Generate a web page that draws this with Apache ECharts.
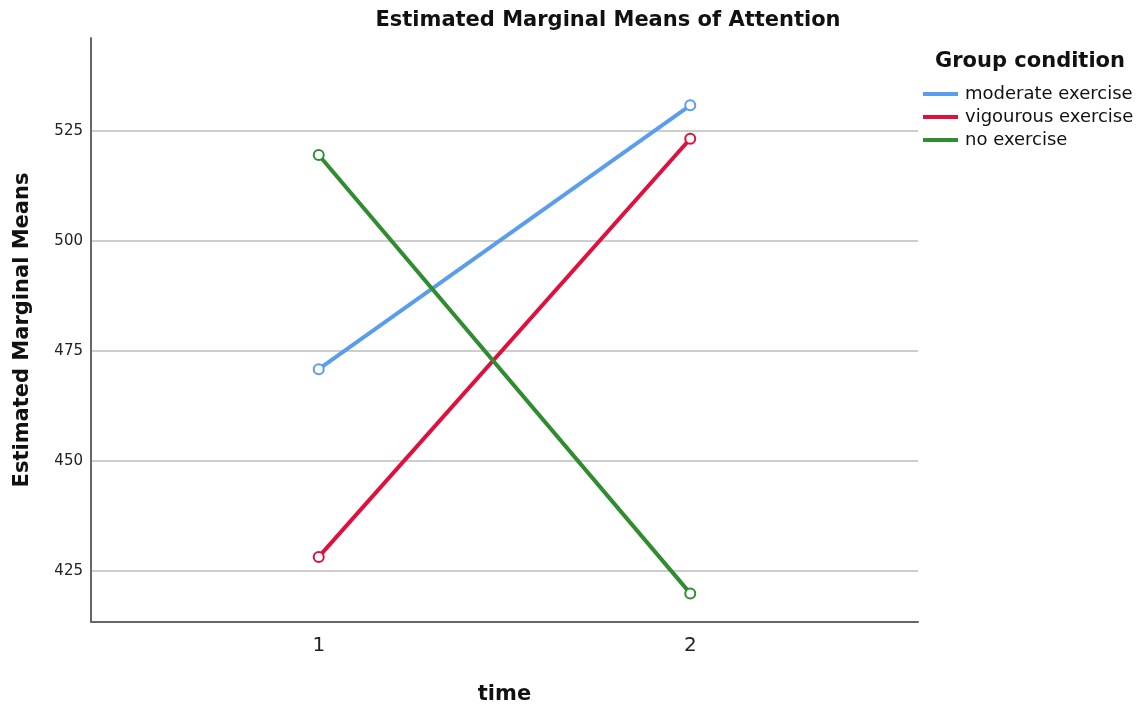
<!DOCTYPE html>
<html>
<head>
<meta charset="utf-8">
<script src="https://cdn.jsdelivr.net/npm/echarts@6/dist/echarts.min.js"></script>
<style>
html,body{margin:0;padding:0;background:#fff;}
#chart{width:1146px;height:707px;}
</style>
</head>
<body>
<div id="chart"></div>
<script>
const timePoints = [1, 2];
const seriesNames = ['moderate exercise', 'vigourous exercise', 'no exercise'];
const moderate = [470.9, 530.9];
const vigorous = [428.2, 523.3];
const noExercise = [519.6, 419.9];
const yTicks = [425, 450, 475, 500, 525];
const colors = ['#5b9ded', '#e0103e', '#2f8c2f'];

const valueSets = [moderate, vigorous, noExercise];

const chart = echarts.init(document.getElementById('chart'));
const fontFam = '"DejaVu Sans", sans-serif';

chart.setOption({
  animation: false,
  backgroundColor: '#ffffff',
  title: [{
    text: 'Estimated Marginal Means of Attention',
    left: 603, top: 5, textAlign: 'center',
    textStyle: {fontFamily: fontFam, fontWeight: 'bold', fontSize: 21, color: '#111'}
  }, {
    text: 'Group condition',
    left: 930, top: 46,
    textStyle: {fontFamily: fontFam, fontWeight: 'bold', fontSize: 21, color: '#111'}
  }],
  legend: {
    orient: 'vertical',
    left: 918, top: 80,
    icon: 'rect',
    itemWidth: 35, itemHeight: 4,
    itemGap: 5,
    itemStyle: {borderWidth: 0},
    textStyle: {fontFamily: fontFam, fontSize: 18, color: '#111', lineHeight: 18, padding: [0, 0, 0, 2]},
    data: seriesNames
  },
  grid: {left: 91, right: 228, top: 38, bottom: 85, outerBoundsMode: 'none', containLabel: false},
  xAxis: {
    type: 'value',
    min: 0.387, max: 2.613,
    name: 'time',
    nameLocation: 'middle',
    nameGap: 62,
    nameTextStyle: {fontFamily: fontFam, fontWeight: 'bold', fontSize: 21, color: '#111'},
    axisLine: {show: true, lineStyle: {color: '#666', width: 2}},
    axisTick: {show: false, customValues: timePoints},
    axisLabel: {customValues: timePoints, fontFamily: fontFam, fontSize: 20, color: '#222', margin: 14},
    splitLine: {show: false}
  },
  yAxis: {
    type: 'value',
    min: 413.4, max: 546.2,
    name: 'Estimated Marginal Means',
    nameLocation: 'middle',
    nameGap: 58,
    nameTextStyle: {fontFamily: fontFam, fontWeight: 'bold', fontSize: 21, color: '#111'},
    axisLine: {show: true, lineStyle: {color: '#666', width: 2}},
    axisTick: {show: false, customValues: yTicks},
    axisLabel: {customValues: yTicks, fontFamily: fontFam, fontSize: 15, color: '#222', margin: 8},
    splitLine: {show: true, lineStyle: {color: '#bdbdbd', width: 1.5}}
  },
  series: seriesNames.map((name, i) => ({
    name: name,
    type: 'line',
    data: timePoints.map((t, j) => [t, valueSets[i][j]]),
    symbol: 'emptyCircle',
    symbolSize: 10,
    color: colors[i],
    lineStyle: {width: 4, color: colors[i]},
    itemStyle: {color: colors[i], borderColor: colors[i], borderWidth: 1.5}
  }))
});
</script>
</body>
</html>
